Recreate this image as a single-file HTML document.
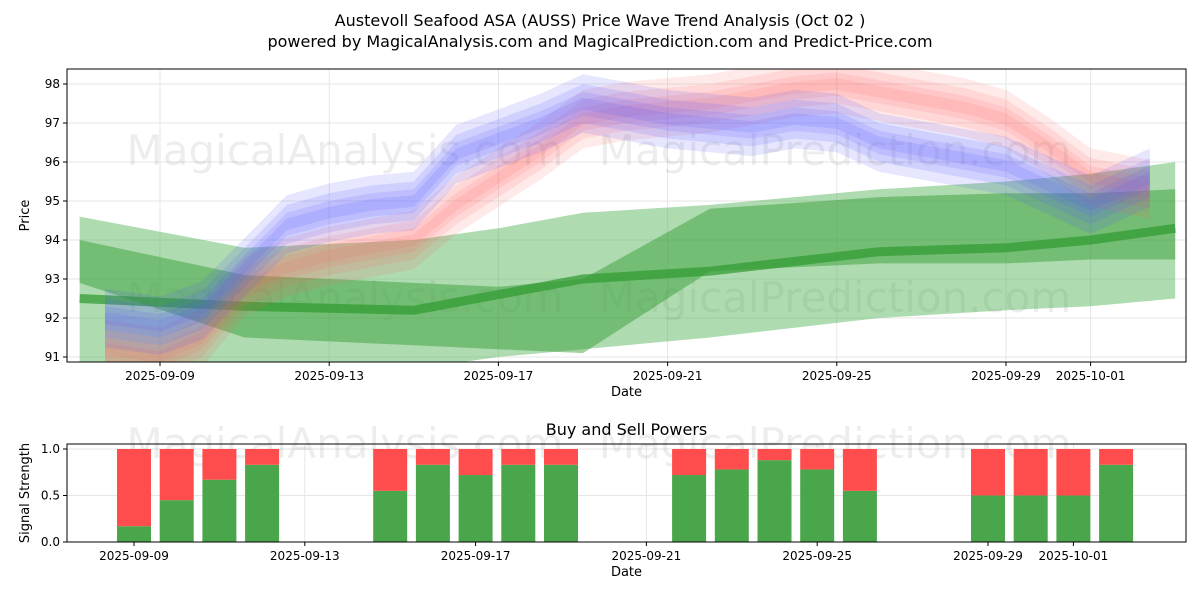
<!DOCTYPE html>
<html><head><meta charset="utf-8"><style>
body{margin:0;background:#fff;font-family:"Liberation Sans","DejaVu Sans",sans-serif}
svg text{font-family:"DejaVu Sans","Liberation Sans",sans-serif}
</style></head><body>
<svg id="c" width="1200" height="600" xmlns="http://www.w3.org/2000/svg">
<text x="600" y="26" font-size="16" text-anchor="middle">Austevoll Seafood ASA (AUSS) Price Wave Trend Analysis (Oct 02 )</text>
<text x="600" y="47" font-size="16" text-anchor="middle">powered by MagicalAnalysis.com and MagicalPrediction.com and Predict-Price.com</text>
<g id="main"></g>
<g id="sub"></g>
</svg>
<script>
// day 0 = 2025-09-09
const priceDays=[-1.3,0,1,2,3,4,5,6,7,8,9,10,11,12,13,14,15,16,17,18,19,20,21,22,23.4];
const bluePrice=[92.0,91.8,92.2,93.3,94.4,94.7,94.9,95.0,96.2,96.6,97.0,97.5,97.3,97.1,97.0,96.9,97.1,97.0,96.5,96.3,96.1,95.9,95.4,94.9,95.6];
const redPrice=[91.2,91.0,91.5,92.8,93.3,93.6,93.8,94.0,94.9,95.6,96.3,97.1,97.3,97.4,97.5,97.7,97.9,98.0,97.8,97.6,97.4,97.1,96.4,95.6,95.3];
const greenDays=[-1.9,2,6,8,10,13,17,20,22,24];
const greenLine=[92.5,92.3,92.2,92.6,93.0,93.2,93.7,93.8,94.0,94.3];
const greenOuterHi=[94.6,93.8,94.0,94.3,94.7,94.9,95.3,95.5,95.7,96.0];
const greenOuterLo=[90.4,90.5,90.7,91.0,91.2,91.5,92.0,92.2,92.3,92.5];
const greenMidHi=[94.0,93.1,92.9,92.8,93.0,94.8,95.1,95.2,95.2,95.3];
const greenMidLo=[92.9,91.5,91.3,91.2,91.1,93.2,93.4,93.4,93.5,93.5];
const yTicks=[91,92,93,94,95,96,97,98];
const xTickDays=[0,4,8,12,16,20,22];
const xTickLabels=["2025-09-09","2025-09-13","2025-09-17","2025-09-21","2025-09-25","2025-09-29","2025-10-01"];
const barDays=[0,1,2,3,6,7,8,9,10,13,14,15,16,17,20,21,22,23];
const buyPower=[0.17,0.45,0.67,0.83,0.55,0.83,0.72,0.83,0.83,0.72,0.78,0.88,0.78,0.55,0.5,0.5,0.5,0.83];
const powerTicks=[0,0.5,1];

const NS="http://www.w3.org/2000/svg";
const L=67,R=1186,T=69,B=362;
const x=d=>160+d*42.3;
const xb=d=>134+d*42.7;
const y=v=>84+(98-v)*39;
const y2=v=>542-v*93;
function mk(p,tag,at){const e=document.createElementNS(NS,tag);for(const k in at)e.setAttribute(k,at[k]);p.appendChild(e);return e;}
const main=document.getElementById('main'),sub=document.getElementById('sub');
function frame(g,t,b,yt,yf,xf,ylab,name){
  mk(g,'rect',{x:L,y:t,width:R-L,height:b-t,fill:'#fff'});
  xTickDays.forEach((d,i)=>{mk(g,'line',{x1:xf(d),x2:xf(d),y1:t,y2:b,stroke:'#e6e6e6','stroke-width':1});
    mk(g,'line',{x1:xf(d),x2:xf(d),y1:b,y2:b+4,stroke:'#000'});
    const tx=mk(g,'text',{x:xf(d),y:b+18,'font-size':12,'text-anchor':'middle'});tx.textContent=xTickLabels[i];
    });
  yt.forEach(v=>{mk(g,'line',{x1:L,x2:R,y1:yf(v),y2:yf(v),stroke:'#e6e6e6'});
    mk(g,'line',{x1:L-4,x2:L,y1:yf(v),y2:yf(v),stroke:'#000'});
    const tx=mk(g,'text',{x:L-7,y:yf(v)+4,'font-size':12,'text-anchor':'end'});tx.textContent=(name==='p'?v:v.toFixed(1));
    });
  const yl=mk(g,'text',{transform:`translate(${L-38},${(t+b)/2}) rotate(-90)`,'font-size':13,'text-anchor':'middle'});yl.textContent=ylab;
  
  const xl=mk(g,'text',{x:(L+R)/2,y:b+34,'font-size':13,'text-anchor':'middle'});xl.textContent='Date';
  
}
frame(main,T,B,yTicks,y,x,'Price','p');
mk(main,'defs',{}).innerHTML=`<clipPath id="cp"><rect x="${L}" y="${T}" width="${R-L}" height="${B-T}"/></clipPath>`;
const pg=mk(main,'g',{'clip-path':'url(#cp)'});
[[345,165],[835,165],[345,312],[835,312]].forEach((p,i)=>{const t=mk(pg,'text',{x:p[0],y:p[1],'font-size':42,'text-anchor':'middle',fill:'#000','fill-opacity':0.07});t.textContent=i%2?'MagicalPrediction.com':'MagicalAnalysis.com';});
function band(days,hi,lo,fill,op,name){
  let pts=days.map((d,i)=>x(d)+','+y(hi[i])).concat(days.map((d,i)=>x(d)+','+y(lo[i])).reverse());
  const p=mk(pg,'polygon',{points:pts.join(' '),fill:fill,'fill-opacity':op});
  
}
band(greenDays,greenOuterHi,greenOuterLo,'#4caf50',0.45,'green-outer-band');
band(greenDays,greenMidHi,greenMidLo,'#2e9a2e',0.45,'green-mid-band');
const gl=mk(pg,'polyline',{points:greenDays.map((d,i)=>x(d)+','+y(greenLine[i])).join(' '),fill:'none',stroke:'#2e9a2e','stroke-width':9,'stroke-opacity':0.7});

[1.5,1.0,0.6,0.3].forEach(w=>{
  band(priceDays,redPrice.map(v=>v+w*0.5),redPrice.map(v=>v-w*0.5),'#ff6060',0.13,'red-wave-band');
});
[1.5,1.0,0.6,0.3].forEach(w=>{
  band(priceDays,bluePrice.map(v=>v+w*0.5),bluePrice.map(v=>v-w*0.5),'#5555ff',0.15,'blue-wave-band');
});
mk(main,'rect',{x:L,y:T,width:R-L,height:B-T,fill:'none',stroke:'#000'});

const T2=444,B2=542;
const st=mk(sub,'text',{x:(L+R)/2,y:435,'font-size':16,'text-anchor':'middle'});st.textContent='Buy and Sell Powers';
frame(sub,T2,B2,powerTicks,y2,xb,'Signal Strength','s');
[[345,458],[835,458]].forEach((p,i)=>{const t=mk(sub,'text',{x:p[0],y:p[1],'font-size':42,'text-anchor':'middle','fill-opacity':0.07});t.textContent=i?'MagicalPrediction.com':'MagicalAnalysis.com';});
barDays.forEach((d,i)=>{
  const cx=xb(d);
  const g=mk(sub,'rect',{x:cx-17,y:y2(buyPower[i]),width:34,height:y2(0)-y2(buyPower[i]),fill:'#4aa64a'});
  
  const r=mk(sub,'rect',{x:cx-17,y:y2(1),width:34,height:y2(buyPower[i])-y2(1),fill:'#ff4d4d'});
  
});
mk(sub,'rect',{x:L,y:T2,width:R-L,height:B2-T2,fill:'none',stroke:'#000'});
</script>
</body></html>
